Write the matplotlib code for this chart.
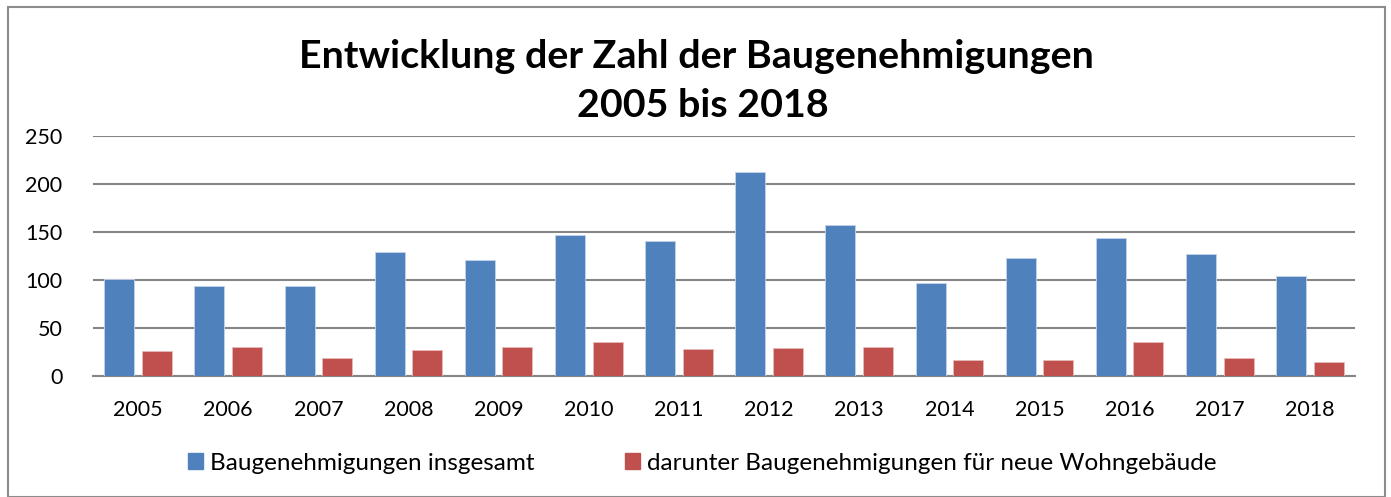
import matplotlib
matplotlib.use("Agg")
import matplotlib.pyplot as plt
import numpy as np
from matplotlib.patches import Rectangle, Patch

plt.rcParams['font.family'] = ['Lato', 'DejaVu Sans']

years = ["2005", "2006", "2007", "2008", "2009", "2010", "2011", "2012",
         "2013", "2014", "2015", "2016", "2017", "2018"]
total = [101, 94, 94, 129, 121, 147, 141, 212, 157, 97, 123, 144, 127, 104]
residential = [26, 30, 19, 27, 30, 35, 28, 29, 30, 17, 17, 35, 19, 15]
series_names = ["Baugenehmigungen insgesamt",
                "darunter Baugenehmigungen für neue Wohngebäude"]
title_lines = ["Entwicklung der Zahl der Baugenehmigungen", "2005 bis 2018"]

blue = "#4F81BD"
red = "#C0504D"
grid_c = "#868686"

fig = plt.figure(figsize=(13.91, 4.97), dpi=100)
ax = fig.add_axes([93/1391, 1-376/497, (1355-93)/1391, 240/497])

x = np.arange(len(years))
w = 0.333
off = 0.208
ax.bar(x - off, total, width=w, color=blue, edgecolor="#c5d3e8", linewidth=0.6, zorder=3)
ax.bar(x + off, residential, width=w, color=red, edgecolor="#e5b9b8", linewidth=0.6, zorder=3)

ax.set_xlim(-0.5, len(years) - 0.5)
ax.set_ylim(0, 250)
ax.set_yticks([0, 50, 100, 150, 200, 250])
ax.yaxis.grid(True, color=grid_c, linewidth=1.5, zorder=0)
ax.set_axisbelow(True)
for s in ["top", "right", "left"]:
    ax.spines[s].set_visible(False)
ax.spines["bottom"].set_color(grid_c)
ax.spines["bottom"].set_linewidth(1.5)
ax.set_xticks(x)
ax.set_xticklabels(years)
ax.tick_params(axis="both", length=0, labelsize=15.5, colors="black")
ax.tick_params(axis="y", pad=22)
ax.tick_params(axis="x", pad=17)

fig.text(0.501, 1-68/497, title_lines[0], ha="center", va="baseline",
         fontsize=28.4, fontweight="bold")
fig.text(0.505, 1-117/497, title_lines[1], ha="center", va="baseline",
         fontsize=28.4, fontweight="bold")

handles = [Patch(color=blue), Patch(color=red)]
fig.legend(handles, series_names, loc="center", bbox_to_anchor=(0.505, 1-463/497),
           ncol=2, frameon=False, fontsize=17.5, handlelength=0.62,
           handleheight=0.66, handletextpad=0.3, columnspacing=3.7,
           borderpad=0, borderaxespad=0)

fig.patches.append(Rectangle((8/1391, 0), (1385-8)/1391, 1-7/497,
                             transform=fig.transFigure, fill=False,
                             edgecolor="#8c8c8c", linewidth=1.5))

fig.savefig("out.png", dpi=100)
